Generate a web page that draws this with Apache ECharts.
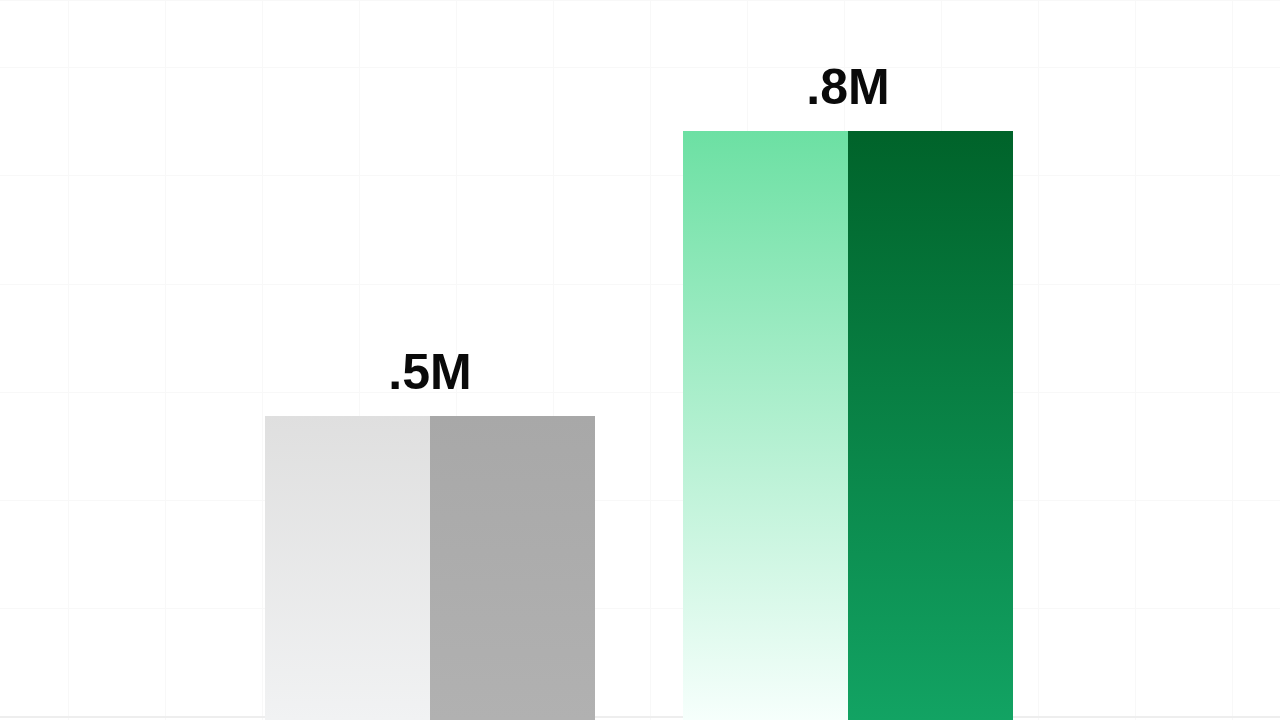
<!DOCTYPE html>
<html>
<head>
<meta charset="utf-8">
<script src="https://cdn.jsdelivr.net/npm/echarts@6/dist/echarts.min.js"></script>
<style>html,body{margin:0;padding:0;background:#fff;}#c{width:1280px;height:720px;}</style>
</head>
<body>
<div id="c"></div>
<script>
// Data (millions)
const categories = ['Group A', 'Group B'];
const leftHalfValues = [0.5, 0.8];
const rightHalfValues = [0.5, 0.8];
const totals = [0.5, 0.8];

const leftColors = [['#dfdfdf', '#f1f2f3'], ['#6ce0a3', '#f6fffc']];
const rightColors = [['#a8a8a8', '#b1b1b1'], ['#00632a', '#12a363']];

function grad(c) {
  return new echarts.graphic.LinearGradient(0, 0, 0, 1, [
    { offset: 0, color: c[0] }, { offset: 1, color: c[1] }
  ]);
}
function fmt(v) { return String(v).replace(/^0/, '') + 'M'; }

const hidden = { axisTick: { show: false }, axisLabel: { show: false } };
const faint = { show: true, lineStyle: { color: '#f8f8f8', width: 1 } };

const chart = echarts.init(document.getElementById('c'));
chart.setOption({
  animation: false,
  backgroundColor: '#ffffff',
  grid: [
    { left: 221, right: 223, top: 0, bottom: 0 },
    { left: 0, right: 0, top: 0, bottom: 3 },
    { left: 68, right: 0, top: 0, bottom: 0 }
  ],
  xAxis: [
    Object.assign({ type: 'category', data: categories, gridIndex: 0, axisLine: { show: false } }, hidden),
    Object.assign({ type: 'value', gridIndex: 1, min: 0, max: 1, splitLine: { show: false },
      axisLine: { show: true, lineStyle: { color: '#eeeeee', width: 2 } } }, hidden),
    Object.assign({ type: 'value', gridIndex: 2, min: 0, max: 12.49, interval: 1,
      axisLine: { show: false }, splitLine: faint }, hidden)
  ],
  yAxis: [
    Object.assign({ type: 'value', gridIndex: 0, min: 0.18, max: 0.938,
      axisLine: { show: false }, splitLine: { show: false } }, hidden),
    Object.assign({ type: 'value', gridIndex: 1, min: 0, max: 6.62, interval: 1,
      axisLine: { show: false }, splitLine: faint }, hidden),
    Object.assign({ type: 'value', gridIndex: 2, min: 0, max: 1,
      axisLine: { show: false }, splitLine: { show: false } }, hidden)
  ],
  series: [
    {
      type: 'bar', xAxisIndex: 0, yAxisIndex: 0, barWidth: 165, barGap: '0%', z: 3,
      data: leftHalfValues.map((v, i) => ({ value: v, itemStyle: { color: grad(leftColors[i]) } })),
      label: {
        show: true, position: 'top', distance: 16, offset: [82.5, 0],
        formatter: p => fmt(totals[p.dataIndex]),
        color: '#0a0a0a', fontSize: 50, fontWeight: 'bold',
        fontFamily: 'Liberation Sans, Arial, sans-serif'
      }
    },
    {
      type: 'bar', xAxisIndex: 0, yAxisIndex: 0, barWidth: 165, barGap: '0%', z: 3,
      data: rightHalfValues.map((v, i) => ({ value: v, itemStyle: { color: grad(rightColors[i]) } }))
    }
  ]
});
</script>
</body>
</html>
